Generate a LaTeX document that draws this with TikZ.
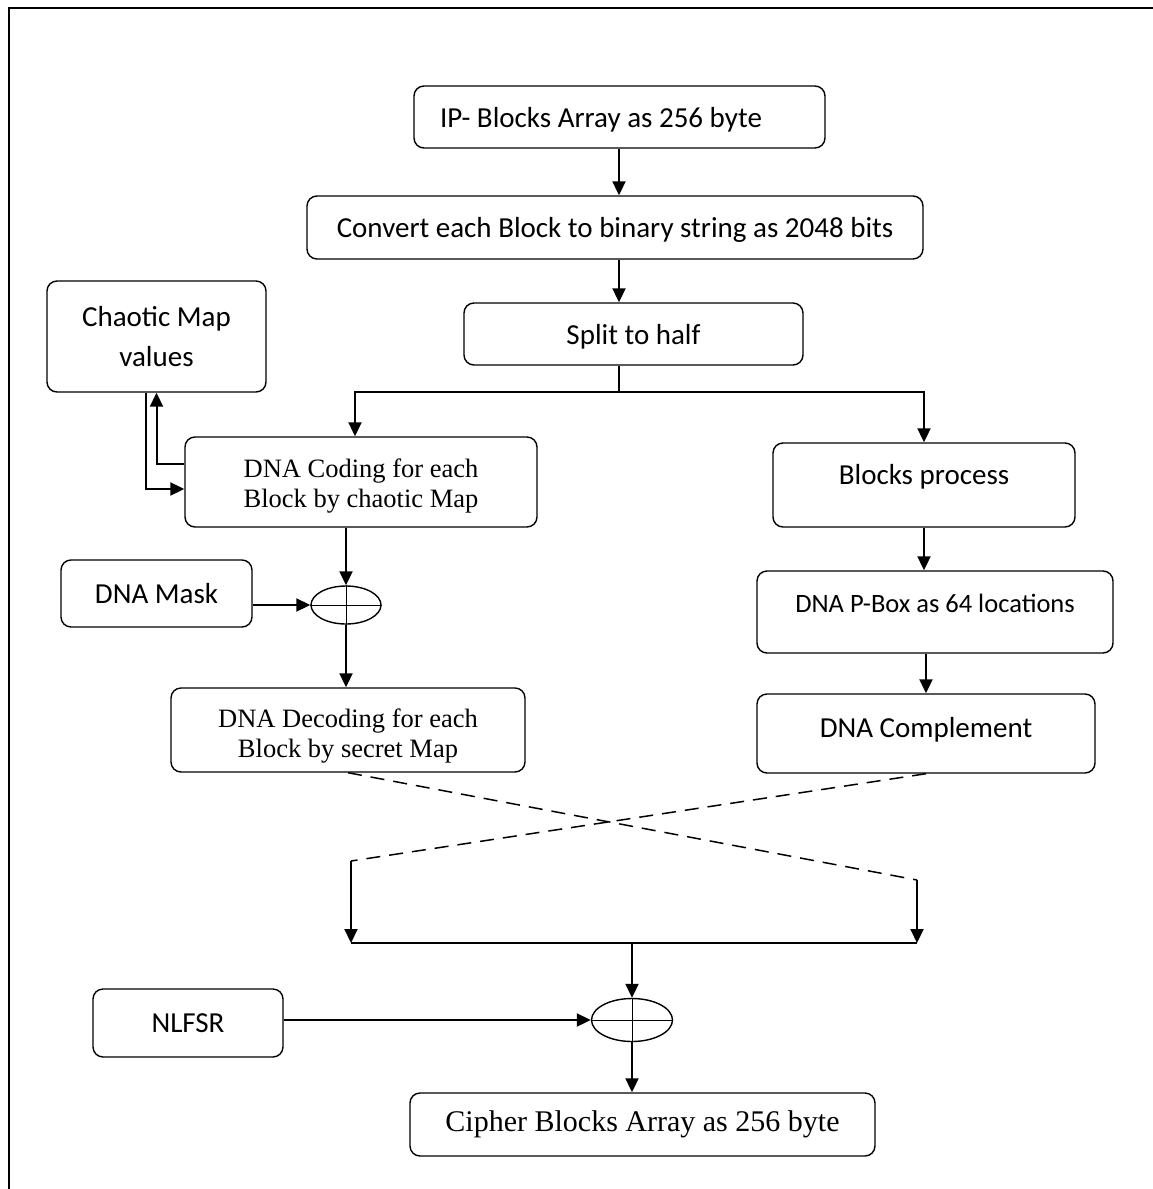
\documentclass[tikz,border=0pt]{standalone}
\usepackage{fontspec}
\setmainfont{Carlito}
\newfontfamily\timesfont{Liberation Serif}
\usetikzlibrary{arrows.meta,shapes.geometric}

\begin{document}
\begin{tikzpicture}[x=1pt,y=-1pt,
  box/.style={draw,line width=1.4pt,rounded corners=10pt,inner sep=2pt,font=\fontsize{29}{40}\selectfont},
  serif/.style={font=\timesfont\fontsize{26.5}{30}\selectfont},
  xor/.style={draw,ellipse,line width=1.4pt,inner sep=0pt},
  arr/.style={line width=2pt,-{Triangle[length=14pt,width=13pt]}},
  lift/.style={text height=20pt,text depth=#1}]
\useasboundingbox (0,0) rectangle (1153,1189);
\draw[line width=2pt] (1153,8) -- (9,8) -- (9,1189);
\node[box,lift=0pt,minimum width=411pt,minimum height=62pt] (IP) at (619.5,117) {IP- Blocks Array as 256 byte\hspace*{37pt}};
\node[box,lift=0pt,minimum width=616pt,minimum height=63pt] (conv) at (615,227.5) {Convert each Block to binary string as 2048 bits};
\node[box,lift=0pt,minimum width=339pt,minimum height=62pt] (split) at (633.5,334) {Split to half};
\node[box,align=center,minimum width=219pt,minimum height=111pt] (chaos) at (156.5,336.5) {Chaotic Map\\values};
\node[box,serif,align=center,minimum width=352pt,minimum height=90pt] (coding) at (361,482) {\rule{0pt}{26pt}DNA Coding for each\\Block by chaotic Map};
\node[box,lift=21.4pt,minimum width=302pt,minimum height=84pt] (blocks) at (924,485) {Blocks process};
\node[box,minimum width=191pt,minimum height=67pt] (mask) at (156.5,593.5) {DNA Mask};
\node[box,lift=19.6pt,font=\fontsize{26.5}{32}\selectfont,minimum width=356pt,minimum height=82pt] (pbox) at (935,612) {DNA P-Box as 64 locations};
\node[xor,minimum width=70pt,minimum height=38pt] (xor1) at (346,605) {};
\node[box,serif,align=center,minimum width=354pt,minimum height=84pt] (decoding) at (348,730) {\rule{0pt}{30pt}DNA Decoding for each\\Block by secret Map};
\node[box,lift=12.8pt,minimum width=338pt,minimum height=79pt] (compl) at (926,733.5) {DNA Complement};
\node[box,minimum width=190pt,minimum height=68pt] (nlfsr) at (188,1023) {NLFSR};
\node[xor,minimum width=81pt,minimum height=43pt] (xor2) at (632,1020) {};
\node[box,font=\timesfont\fontsize{30}{36}\selectfont,minimum width=465pt,minimum height=63pt] (cipher) at (642.5,1124.5) {Cipher Blocks Array as 256 byte};
\coordinate (fork) at (619,392);
\coordinate (cL) at (351,861);
\coordinate (cR) at (917,880);
\coordinate (busL) at (351,943);
\coordinate (busR) at (917,943);
\draw[arr] (IP.south -| fork) -- (conv.north -| fork);
\draw[arr] (conv.south -| fork) -- (split.north -| fork);
\draw[line width=1.4pt] (split.south -| fork) -- (fork);
\draw[arr] (fork) -| ([xshift=-6pt]coding.north);
\draw[arr] (fork) -| (blocks.north);
\draw[arr] (blocks.south) -- (blocks.south |- pbox.north);
\draw[arr] (compl.north |- pbox.south) -- (compl.north);
\draw[arr] ([yshift=18pt]coding.west) -| (chaos.south);
\draw[arr] ([xshift=-11pt]chaos.south) |- ([yshift=-7pt]coding.west);
\draw[arr] (coding.south -| xor1.north) -- (xor1.north);
\draw[arr] (mask.east |- xor1.west) -- (xor1.west);
\draw[arr] (xor1.south) -- (xor1.south |- decoding.north);
\draw[line width=.8pt] (xor1.north) -- (xor1.south) (xor1.west) -- (xor1.east);
\draw[line width=1.5pt,dash pattern=on 14pt off 9pt] (decoding.south) -- (cR);
\draw[line width=1.5pt,dash pattern=on 14pt off 9pt] (compl.south) -- (cL);
\draw[arr] (cL) -- (busL);
\draw[arr] (cR) -- (busR);
\draw[line width=1.5pt] (busL) -- (busR);
\draw[arr] (xor2.north |- busL) -- (xor2.north);
\draw[arr] (nlfsr.east |- xor2.west) -- (xor2.west);
\draw[arr] (xor2.south) -- (xor2.south |- cipher.north);
\draw[line width=.8pt] (xor2.north) -- (xor2.south) (xor2.west) -- (xor2.east);
\end{tikzpicture}
\end{document}
